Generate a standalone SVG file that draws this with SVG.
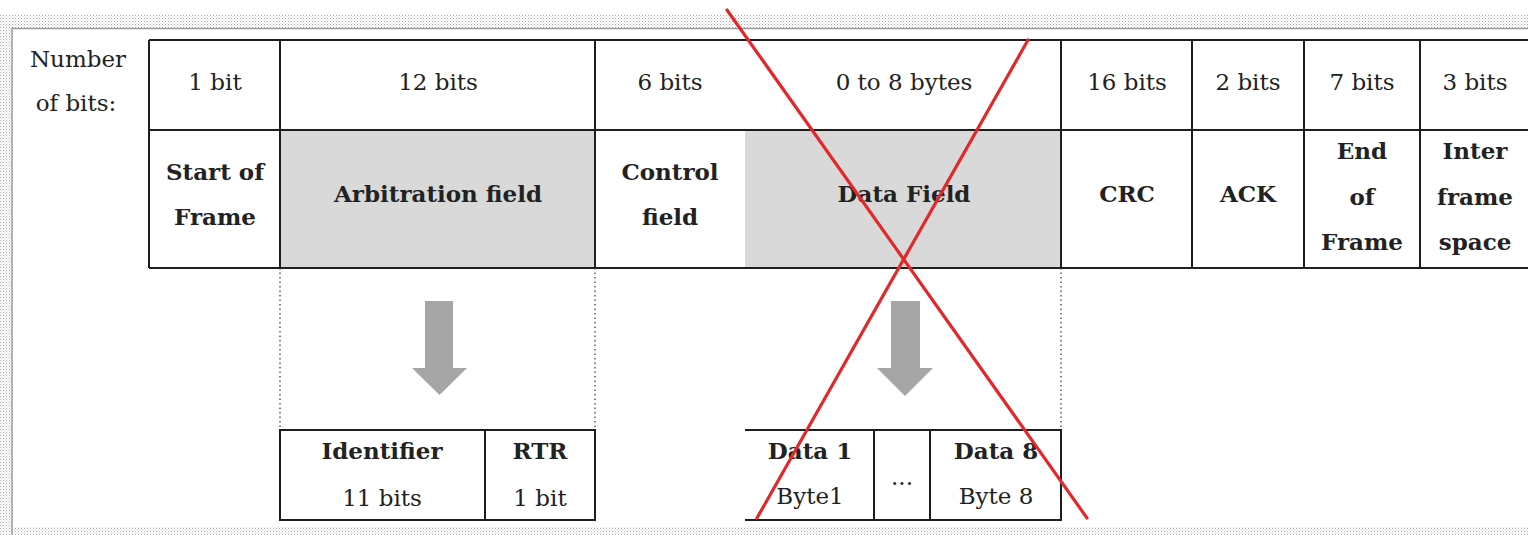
<svg xmlns="http://www.w3.org/2000/svg" width="1528" height="535" viewBox="0 0 1528 535">
<defs>
<pattern id="dots" width="3" height="3" patternUnits="userSpaceOnUse">
<rect width="3" height="3" fill="#ffffff"/>
<rect width="1" height="1" fill="#a8a8a8"/>
<rect x="1.5" y="1.5" width="1" height="1" fill="#c4c4c4"/>
</pattern>
<style>
.t{font-family:"DejaVu Serif","Liberation Serif",serif;font-size:23px;fill:#222;text-anchor:middle}
.b{font-weight:bold}
.ln{stroke:#1e1e1e;stroke-width:2;fill:none}
.dot{stroke:#333;stroke-width:1.2;stroke-dasharray:1.5 3;fill:none}
.gray{fill:#d9d9d9}
.arrow{fill:#a6a6a6}
.x{stroke:#e2282a;stroke-width:3.2;stroke-linecap:round}
</style>
</defs>
<rect width="1528" height="535" fill="#ffffff"/>
<g id="frame">
<rect x="0" y="15" width="1528" height="13" fill="url(#dots)"/>
<rect x="0" y="15" width="12" height="520" fill="url(#dots)"/>
<rect x="0" y="527" width="1528" height="8" fill="url(#dots)"/>
<path d="M12 535 V28.5 H1528" stroke="#9a9a9a" stroke-width="1.5" fill="none"/>
</g>
<g id="label-number">
<text class="t" x="78" y="67" font-size="24">Number</text>
<text class="t" x="76" y="111" font-size="24">of bits:</text>
</g>
<g id="main-table">
<rect class="gray" x="280" y="130" width="315" height="138"/>
<rect class="gray" x="745" y="130" width="316" height="138"/>
<path class="ln" d="M149 40 H1528 M149 130 H1528 M149 268 H1528 M149 40 V268 M280 40 V268 M595 40 V268 M1061 40 V268 M1192 40 V268 M1304 40 V268 M1420 40 V268"/>
</g>
<g id="cell-sof"><text class="t" x="215" y="90">1 bit</text><text class="t b" x="215" y="180">Start of</text><text class="t b" x="215" y="225">Frame</text></g>
<g id="cell-arbitration"><text class="t" x="438" y="90">12 bits</text><text class="t b" x="438" y="202">Arbitration field</text></g>
<g id="cell-control"><text class="t" x="670" y="90">6 bits</text><text class="t b" x="670" y="180">Control</text><text class="t b" x="670" y="225">field</text></g>
<g id="cell-data"><text class="t" x="904" y="90">0 to 8 bytes</text><text class="t b" x="904" y="202">Data Field</text></g>
<g id="cell-crc"><text class="t" x="1127" y="90">16 bits</text><text class="t b" x="1127" y="202">CRC</text></g>
<g id="cell-ack"><text class="t" x="1248" y="90">2 bits</text><text class="t b" x="1248" y="202">ACK</text></g>
<g id="cell-eof"><text class="t" x="1362" y="90">7 bits</text><text class="t b" x="1362" y="159">End</text><text class="t b" x="1362" y="205">of</text><text class="t b" x="1362" y="250">Frame</text></g>
<g id="cell-ifs"><text class="t" x="1475" y="90">3 bits</text><text class="t b" x="1475" y="159">Inter</text><text class="t b" x="1475" y="205">frame</text><text class="t b" x="1475" y="250">space</text></g>
<g id="connectors">
<path class="dot" d="M280 268 V430 M595 268 V430 M1061 268 V430"/>
<path class="arrow" d="M425 301 H453 V368 H467 L439.5 395 L412 368 H425 Z"/>
<path class="arrow" d="M891 301 H920 V368 H933 L905 396 L877 368 H891 Z"/>
</g>
<g id="sub-identifier">
<path class="ln" d="M280 430 H595 V520 H280 Z M485 430 V520"/>
<text class="t b" x="382" y="459">Identifier</text>
<text class="t" x="382" y="506">11 bits</text>
<text class="t b" x="540" y="459">RTR</text>
<text class="t" x="540" y="506">1 bit</text>
</g>
<g id="sub-data">
<path class="ln" d="M745 430 H1061 V520 H745 M874 430 V520 M930 430 V520"/>
<text class="t b" x="810" y="459">Data 1</text>
<text class="t" x="810" y="504">Byte1</text>
<text class="t" x="902" y="485">...</text>
<text class="t b" x="996" y="459">Data 8</text>
<text class="t" x="996" y="504">Byte 8</text>
</g>
<g id="red-cross">
<line class="x" x1="727" y1="10" x2="1087" y2="518"/>
<line class="x" x1="1028" y1="40" x2="757" y2="518"/>
</g>
</svg>
